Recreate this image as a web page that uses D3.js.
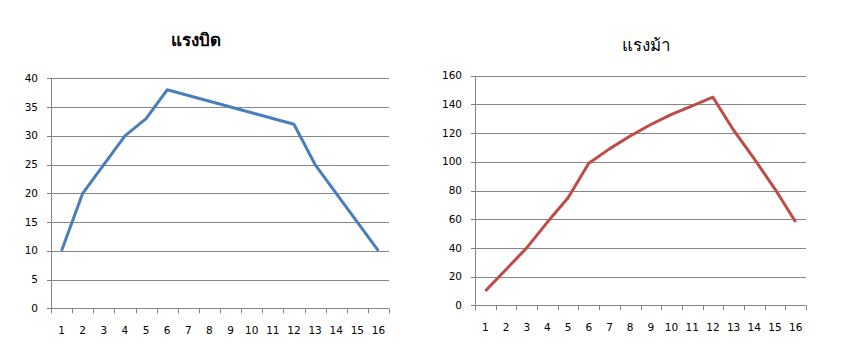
<!DOCTYPE html>
<html><head><meta charset="utf-8">
<script src="https://cdn.jsdelivr.net/npm/d3@7"></script>
<style>body{margin:0;background:#fff}svg{display:block}</style>
</head><body>
<svg id="c" width="841" height="359"></svg>
<script>
const categories = ["1","2","3","4","5","6","7","8","9","10","11","12","13","14","15","16"];
const torque = [10,20,25,30,33,38,37,36,35,34,33,32,25,20,15,10];
const horsepower = [10,25,40,58,75,99,109,118,126,133,139,145,122,102,81,58];
const torqueTicks = [0,5,10,15,20,25,30,35,40];
const hpTicks = [0,20,40,60,80,100,120,140,160];
const titles = ["แรงบิด","แรงม้า"];

const svg = d3.select("#c");
const font = "Tahoma, 'DejaVu Sans', 'Noto Sans', sans-serif";

function chart(cfg){
  const g = svg.append("g");
  const x = d3.scaleBand().domain(categories).range([cfg.x0, cfg.x1]);
  const y = d3.scaleLinear().domain([0, cfg.ticks[cfg.ticks.length-1]]).range([cfg.y0, cfg.y1]);
  // gridlines
  g.selectAll("line.grid").data(cfg.ticks.slice(1)).join("line")
    .attr("x1", cfg.x0 - 4).attr("x2", cfg.x1)
    .attr("y1", d => Math.round(y(d)) + 0.5).attr("y2", d => Math.round(y(d)) + 0.5)
    .attr("stroke", "#868686").attr("stroke-width", 1);
  // y axis
  g.append("line").attr("x1", Math.round(cfg.x0)+0.5).attr("x2", Math.round(cfg.x0)+0.5)
    .attr("y1", cfg.y1).attr("y2", cfg.y0).attr("stroke", "#868686");
  g.selectAll("line.yt").data(cfg.ticks.slice(0,1)).join("line")
    .attr("x1", cfg.x0 - 4).attr("x2", cfg.x0)
    .attr("y1", d => Math.round(y(d)) + 0.5).attr("y2", d => Math.round(y(d)) + 0.5)
    .attr("stroke", "#868686");
  g.selectAll("text.yl").data(cfg.ticks).join("text")
    .attr("x", cfg.x0 - 13).attr("y", d => y(d)).attr("dy", "0.35em")
    .attr("text-anchor", "end").attr("font-family", font).attr("font-size", 10.5)
    .attr("fill", "#000").text(d => d);
  // x axis
  g.append("line").attr("x1", cfg.x0).attr("x2", cfg.x1)
    .attr("y1", Math.round(cfg.y0)+0.5).attr("y2", Math.round(cfg.y0)+0.5).attr("stroke", "#868686");
  const edges = categories.map(c => x(c)).concat([cfg.x1]);
  g.selectAll("line.xt").data(edges).join("line")
    .attr("x1", d => Math.round(d)+0.5).attr("x2", d => Math.round(d)+0.5)
    .attr("y1", cfg.y0).attr("y2", cfg.y0 + 5).attr("stroke", "#868686");
  g.selectAll("text.xl").data(categories).join("text")
    .attr("x", d => x(d) + x.bandwidth()/2).attr("y", cfg.y0 + 22).attr("dy", "0.35em")
    .attr("text-anchor", "middle").attr("font-family", font).attr("font-size", 10.5)
    .attr("fill", "#000").text(d => d);
  // line
  const line = d3.line().x((d,i) => x(categories[i]) + x.bandwidth()/2).y(d => y(d));
  g.append("path").datum(cfg.values).attr("d", line)
    .attr("fill", "none").attr("stroke", cfg.color).attr("stroke-width", 3)
    .attr("stroke-linejoin", "round");
  // title
  g.append("text").attr("x", cfg.tx).attr("y", cfg.ty).attr("text-anchor", "middle")
    .attr("font-family", font).attr("font-size", 17).attr("font-weight", cfg.bold ? "bold" : "normal")
    .attr("fill", "#000").text(cfg.title);
}

chart({x0:51, x1:389, y0:308.3, y1:78.3, ticks:torqueTicks, values:torque, color:"#4a7ebb",
       title:titles[0], tx:195.5, ty:46, bold:true});
chart({x0:475, x1:806, y0:305.3, y1:75.7, ticks:hpTicks, values:horsepower, color:"#be4b48",
       title:titles[1], tx:646, ty:51, bold:false});
</script>
</body></html>
